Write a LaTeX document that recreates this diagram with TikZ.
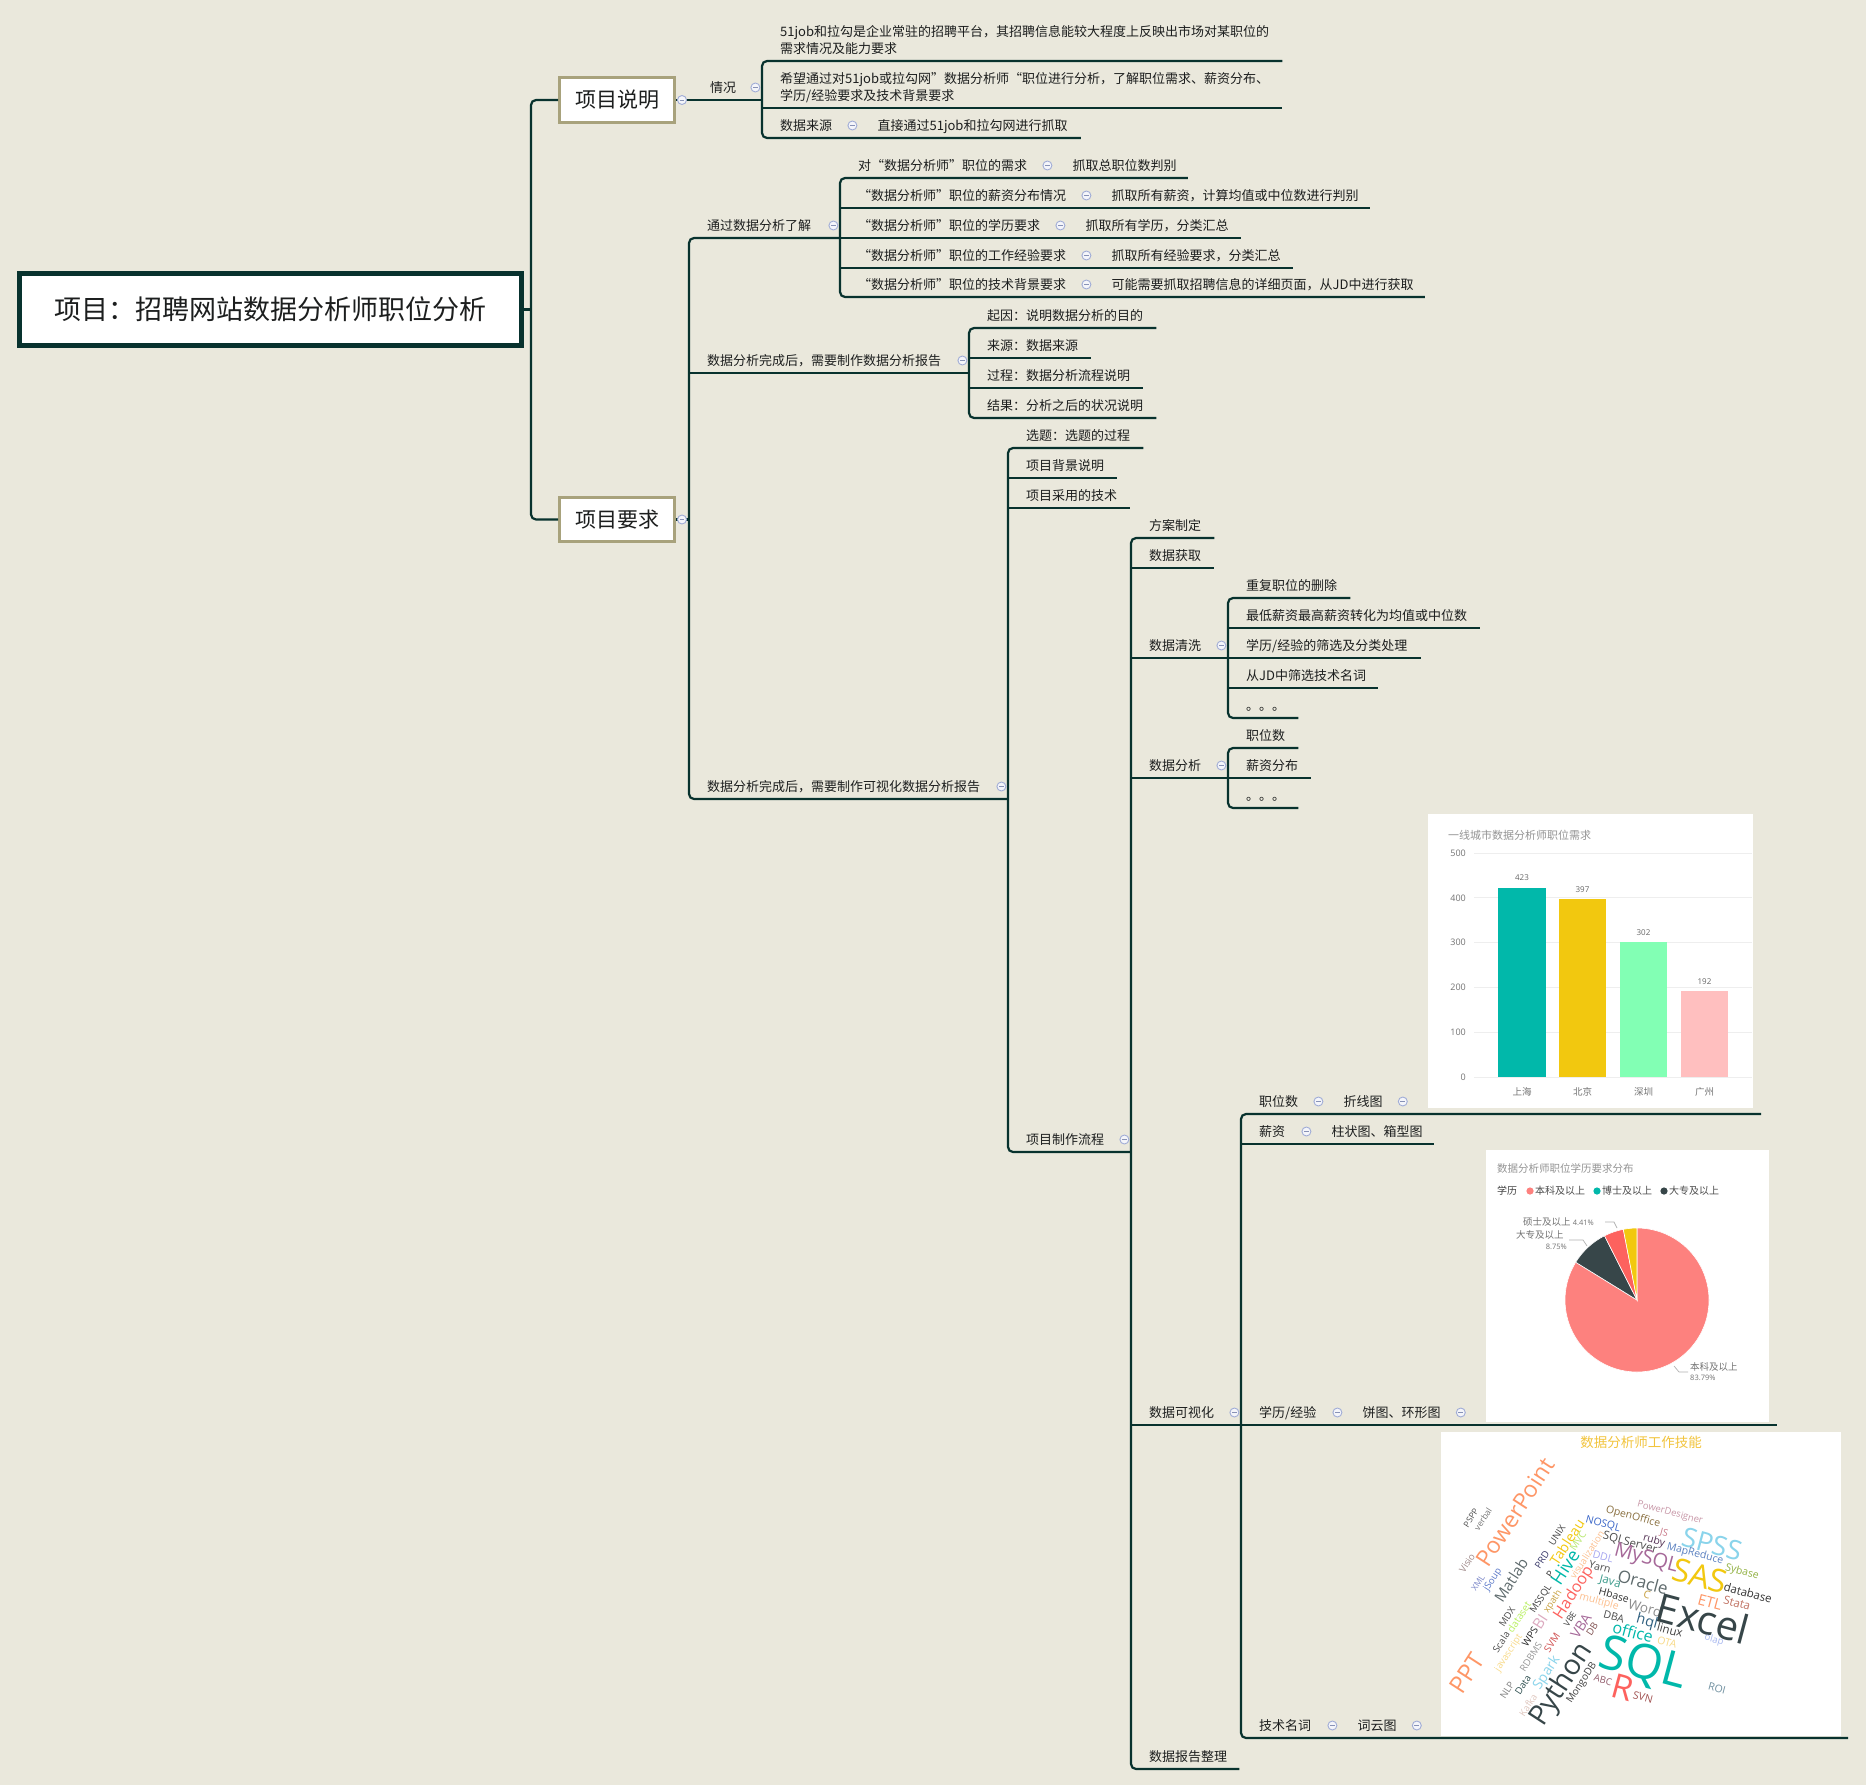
\documentclass[tikz,border=0pt]{standalone}
\usepackage{fontspec}
\setmainfont{Noto Sans CJK SC}
\newfontfamily\cloudfont{Open Sans}
\usetikzlibrary{calc}

\definecolor{bg}{RGB}{234,232,220}
\definecolor{ink}{RGB}{28,30,30}
\definecolor{wire}{RGB}{8,50,46}
\definecolor{olive}{RGB}{168,162,124}
\definecolor{foldring}{RGB}{160,172,214}
\definecolor{foldfill}{RGB}{244,245,250}
\definecolor{pbteal}{HTML}{01B8AA}
\definecolor{pbdark}{HTML}{374649}
\definecolor{pbred}{HTML}{FD625E}
\definecolor{pbyellow}{HTML}{F2C80F}
\definecolor{pbblue}{HTML}{8AD4EB}
\definecolor{pborange}{HTML}{FE9666}
\definecolor{pbpurple}{HTML}{A66999}
\definecolor{pbgrey}{HTML}{5F6B6D}
\definecolor{pbsalmon}{HTML}{FD817E}
\definecolor{pbmint}{HTML}{82FFB4}
\definecolor{pbpink}{HTML}{FFBFBF}
\definecolor{gridgrey}{RGB}{238,238,238}
\definecolor{cloudtitle}{RGB}{242,196,60}
\definecolor{wcnavy}{HTML}{3A66C8}
\definecolor{wcbrown}{HTML}{8A7040}
\definecolor{wcmauve}{HTML}{C898A8}
\definecolor{wcrose}{HTML}{C87888}
\definecolor{wcplum}{HTML}{553355}
\definecolor{wcsteel}{HTML}{5A80C0}
\definecolor{wclav}{HTML}{A8A8F0}
\definecolor{wcolive}{HTML}{90B040}
\definecolor{wcsea}{HTML}{3A9A8A}
\definecolor{wcgold}{HTML}{C8A040}
\definecolor{wcpeach}{HTML}{FDC090}
\definecolor{wcrust}{HTML}{C07060}
\definecolor{wcdeep}{HTML}{306080}
\definecolor{wccream}{HTML}{F8DA88}
\definecolor{wcsky}{HTML}{A8B8F0}
\definecolor{wcwine}{HTML}{905868}
\definecolor{wcbrick}{HTML}{A05050}
\definecolor{wcslate}{HTML}{7090A0}
\definecolor{wclime}{HTML}{B8F060}
\definecolor{wcsage}{HTML}{B8E870}
\definecolor{wcblue}{HTML}{5A78C8}
\definecolor{wcxml}{HTML}{7A86C8}
\definecolor{wcvisio}{HTML}{A08A8A}
\definecolor{wcred}{HTML}{D05050}
\definecolor{wcpink}{HTML}{DCAAC0}
\definecolor{wckafka}{HTML}{E0C8C0}
\definecolor{wcteal}{HTML}{2F5050}
\definecolor{wcindigo}{HTML}{3A3A6A}
\definecolor{wcdb}{HTML}{805050}

% one row of text: a box of fixed width, text indented from its left end
\newcommand\rowtxt[2]{\makebox[#1pt][l]{\hspace*{18pt}#2}}

\tikzset{
  conn/.style={draw=wire, line width=2.2pt},
  bracket/.style={conn, rounded corners=5pt},
  topic/.style={anchor=south west, inner xsep=0pt, inner ysep=7.5pt, text depth=0pt,
    text=ink, font=\fontsize{13}{17}\selectfont},
  rootbox/.style={draw=wire, line width=5pt, fill=white, minimum width=502pt,
    minimum height=72pt, inner sep=0pt, font=\fontsize{27}{30}\selectfont, text=ink},
  mainbox/.style={draw=olive, line width=3pt, fill=white, minimum width=115pt,
    minimum height=44pt, inner sep=0pt, font=\fontsize{21}{24}\selectfont, text=ink},
  fold/.style={circle, draw=foldring, fill=foldfill, line width=0.9pt, minimum size=9pt,
    inner sep=0pt, path picture={\draw[foldring!85!black, line width=0.9pt]
      ([xshift=-2.4pt]path picture bounding box.center) --
      ([xshift=2.4pt]path picture bounding box.center);}},
  holder/.style={anchor=south west, inner sep=0pt, draw=none},
  panel/.style={anchor=south west, inner sep=0pt, fill=white, draw=none},
  chartlbl/.style={inner sep=0pt, text=black!55},
  wsz/.style={inner sep=0pt, font=\cloudfont\fontsize{#1}{#1}\selectfont},
  up/.style={rotate=57},
  tilt/.style={rotate=-15}
}
\newcommand\foldon[1]{\node[fold] (fold-#1) at ([shift={(-7,-12.5)}]#1.south east) {};}

\begin{document}
\begin{tikzpicture}[x=1pt,y=-1pt]
\useasboundingbox (0,0) rectangle (1866,1785);
\fill[bg] (0,0) rectangle (1866,1785);

% ---------- root and the two main topics ----------
\node[rootbox] (root) at (270.5,309.5) {项目：招聘网站数据分析师职位分析};
\node[mainbox] (sm) at (617,100) {项目说明};
\node[mainbox] (req) at (617,519.5) {项目要求};
\coordinate (rj) at ($(root.east)+(7,0)$);
\draw[conn] (root.east) -- (rj);
\draw[bracket] (sm.west) -| (rj) |- (req.west);

% ---------- 项目说明 ----------
\node[topic] (qk) at (692,100) {\rowtxt{70}{情况}};
\draw[conn] (sm.east) -- (qk.south east);
\node[topic, text width=520pt, text depth=17pt, align=left] (c1) at (762,61)
  {\hspace*{18pt}51job和拉勾是企业常驻的招聘平台，其招聘信息能较大程度上反映出市场对某职位的\\\hspace*{18pt}需求情况及能力要求};
\node[topic, text width=520pt, text depth=17pt, align=left] (c2) at (762,108)
  {\hspace*{18pt}希望通过对51job或拉勾网”数据分析师“职位进行分析，了解职位需求、薪资分布、\\\hspace*{18pt}学历/经验要求及技术背景要求};
\node[topic] (c3) at (762,138) {\rowtxt{97}{数据来源}};
\node[topic] (c3x) at (c3.south east) {\rowtxt{221}{直接通过51job和拉勾网进行抓取}};
\draw[bracket] (c1.south east) -- (c1.south west) -- (c3.south west) -- (c3x.south east);
\draw[conn] (c2.south west) -- (c2.south east);

% ---------- 项目要求 ----------
\node[topic] (r1) at (689,238) {\rowtxt{151}{通过数据分析了解}};
\node[topic] (r2) at (689,373) {\rowtxt{280}{数据分析完成后，需要制作数据分析报告}};
\node[topic] (r3) at (689,799) {\rowtxt{319}{数据分析完成后，需要制作可视化数据分析报告}};
\draw[conn] (req.east) -- (req.east -| r1.south west);
\draw[bracket] (r1.south east) -- (r1.south west) -- (r3.south west) -- (r3.south east);
\draw[conn] (r2.south west) -- (r2.south east);

% 通过数据分析了解
\node[topic] (a1) at (840,178) {\rowtxt{214}{对“数据分析师”职位的需求}};
\node[topic] (a1x) at (a1.south east) {\rowtxt{133}{抓取总职位数判别}};
\node[topic] (a2) at (840,208) {\rowtxt{253}{“数据分析师”职位的薪资分布情况}};
\node[topic] (a2x) at (a2.south east) {\rowtxt{276}{抓取所有薪资，计算均值或中位数进行判别}};
\node[topic] (a3) at (840,238) {\rowtxt{227}{“数据分析师”职位的学历要求}};
\node[topic] (a3x) at (a3.south east) {\rowtxt{173}{抓取所有学历，分类汇总}};
\node[topic] (a4) at (840,268) {\rowtxt{253}{“数据分析师”职位的工作经验要求}};
\node[topic] (a4x) at (a4.south east) {\rowtxt{199}{抓取所有经验要求，分类汇总}};
\node[topic] (a5) at (840,297) {\rowtxt{253}{“数据分析师”职位的技术背景要求}};
\node[topic] (a5x) at (a5.south east) {\rowtxt{331}{可能需要抓取招聘信息的详细页面，从JD中进行获取}};
\draw[bracket] (a1x.south east) -- (a1.south west) -- (a5.south west) -- (a5x.south east);
\draw[conn] (a2.south west) -- (a2x.south east);
\draw[conn] (a3.south west) -- (a3x.south east);
\draw[conn] (a4.south west) -- (a4x.south east);

% 数据分析报告
\node[topic] (b1) at (969,328) {\rowtxt{187}{起因：说明数据分析的目的}};
\node[topic] (b2) at (969,358) {\rowtxt{122}{来源：数据来源}};
\node[topic] (b3) at (969,388) {\rowtxt{174}{过程：数据分析流程说明}};
\node[topic] (b4) at (969,418) {\rowtxt{187}{结果：分析之后的状况说明}};
\draw[bracket] (b1.south east) -- (b1.south west) -- (b4.south west) -- (b4.south east);
\draw[conn] (b2.south west) -- (b2.south east);
\draw[conn] (b3.south west) -- (b3.south east);

% 可视化数据分析报告
\node[topic] (d1) at (1008,448) {\rowtxt{135}{选题：选题的过程}};
\node[topic] (d2) at (1008,478) {\rowtxt{109}{项目背景说明}};
\node[topic] (d3) at (1008,508) {\rowtxt{122}{项目采用的技术}};
\node[topic] (d4) at (1008,1152) {\rowtxt{123}{项目制作流程}};
\draw[bracket] (d1.south east) -- (d1.south west) -- (d4.south west) -- (d4.south east);
\draw[conn] (d2.south west) -- (d2.south east);
\draw[conn] (d3.south west) -- (d3.south east);

% 项目制作流程
\node[topic] (e1) at (1131,538) {\rowtxt{83}{方案制定}};
\node[topic] (e2) at (1131,568) {\rowtxt{83}{数据获取}};
\node[topic] (e3) at (1131,658) {\rowtxt{97}{数据清洗}};
\node[topic] (e4) at (1131,778) {\rowtxt{97}{数据分析}};
\node[topic] (e5) at (1131,1425) {\rowtxt{110}{数据可视化}};
\node[topic] (e6) at (1131,1769) {\rowtxt{108}{数据报告整理}};
\draw[bracket] (e1.south east) -- (e1.south west) -- (e6.south west) -- (e6.south east);
\foreach \n in {e2,e3,e4,e5} \draw[conn] (\n.south west) -- (\n.south east);

% 数据清洗
\node[topic] (f1) at (1228,598) {\rowtxt{122}{重复职位的删除}};
\node[topic] (f2) at (1228,628) {\rowtxt{252}{最低薪资最高薪资转化为均值或中位数}};
\node[topic] (f3) at (1228,658) {\rowtxt{193}{学历/经验的筛选及分类处理}};
\node[topic] (f4) at (1228,688) {\rowtxt{150}{从JD中筛选技术名词}};
\node[topic] (f5) at (1228,718) {\rowtxt{70}{。。。}};
\draw[bracket] (f1.south east) -- (f1.south west) -- (f5.south west) -- (f5.south east);
\foreach \n in {f2,f3,f4} \draw[conn] (\n.south west) -- (\n.south east);

% 数据分析
\node[topic] (g1) at (1228,748) {\rowtxt{70}{职位数}};
\node[topic] (g2) at (1228,778) {\rowtxt{83}{薪资分布}};
\node[topic] (g3) at (1228,808) {\rowtxt{70}{。。。}};
\draw[bracket] (g1.south east) -- (g1.south west) -- (g3.south west) -- (g3.south east);
\draw[conn] (g2.south west) -- (g2.south east);

% 数据可视化
\node[topic] (h1) at (1241,1114) {\rowtxt{84}{职位数}};
\node[topic] (h1x) at (h1.south east) {\rowtxt{84}{折线图}};
\node[holder, minimum width=351pt, minimum height=300pt] (h1img) at (h1x.south east) {};
\node[topic] (h2) at (1241,1144) {\rowtxt{72}{薪资}};
\node[topic] (h2x) at (h2.south east) {\rowtxt{120}{柱状图、箱型图}};
\node[topic] (h3) at (1241,1425) {\rowtxt{103}{学历/经验}};
\node[topic] (h3x) at (h3.south east) {\rowtxt{123}{饼图、环形图}};
\node[holder, minimum width=309pt, minimum height=280pt] (h3img) at (h3x.south east) {};
\node[topic] (h4) at (1241,1738) {\rowtxt{98}{技术名词}};
\node[topic] (h4x) at (h4.south east) {\rowtxt{84}{词云图}};
\node[holder, minimum width=424pt, minimum height=310pt] (h4img) at (h4x.south east) {};
\draw[bracket] (h1img.south east) -- (h1.south west) -- (h4.south west) -- (h4img.south east);
\draw[conn] (h2.south west) -- (h2x.south east);
\draw[conn] (h3.south west) -- (h3img.south east);

% ---------- collapse markers ----------
\node[fold] (fold-sm) at ([xshift=6pt]sm.east) {};
\node[fold] (fold-req) at ([xshift=6pt]req.east) {};
\foreach \n in {qk,c3,r1,r2,r3,a1,a2,a3,a4,a5,d4,e3,e4,e5,h1,h1x,h2,h3,h3x,h4,h4x} {\foldon{\n}}

% ---------- bar chart ----------
\node[panel, minimum width=325pt, minimum height=294pt] (barpanel) at ([shift={(18,-6)}]h1img.south west) {};
\node[chartlbl, anchor=west, text=black!42, font=\fontsize{11}{11}\selectfont] (bartitle) at (1448,835) {一线城市数据分析师职位需求};
\foreach \v/\yy in {0/1077,100/1032.2,200/987.4,300/942.6,400/897.8,500/853} {
  \draw[gridgrey, line width=0.9pt] (1474,\yy) -- (1752,\yy);
  \node[chartlbl, anchor=east, font=\cloudfont\fontsize{9}{9}\selectfont] (ytick\v) at (1466,\yy) {\v};
}
\fill[pbteal] (1498,1077) rectangle (1546,887.5);
\fill[pbyellow] (1559,1077) rectangle (1606,899.1);
\fill[pbmint] (1620,1077) rectangle (1667,941.7);
\fill[pbpink] (1681,1077) rectangle (1728,991);
\foreach \xx/\val/\tp/\city [count=\i] in {1522/423/887.5/上海,1582.5/397/899.1/北京,1643.5/302/941.7/深圳,1704.5/192/991/广州} {
  \node[chartlbl, text=black!60, font=\cloudfont\fontsize{8}{8}\selectfont] (barval\i) at (\xx,\tp-9.5) {\val};
  \node[chartlbl, font=\fontsize{9.5}{9.5}\selectfont] (barcity\i) at (\xx,1092) {\city};
}

% ---------- pie chart ----------
\node[panel, minimum width=283pt, minimum height=272pt] (piepanel) at ([shift={(18,-3)}]h3img.south west) {};
\node[chartlbl, anchor=west, text=black!42, font=\fontsize{10.5}{10.5}\selectfont] (pietitle) at (1497,1168) {数据分析师职位学历要求分布};
\node[chartlbl, anchor=west, text=black!75, font=\fontsize{10}{10}\selectfont] (legtitle) at (1497,1191) {学历};
\fill[pbsalmon] (1530,1191) circle (3.6);
\node[chartlbl, anchor=west, text=black!70, font=\fontsize{10}{10}\selectfont] (leg1) at (1535,1191) {本科及以上};
\fill[pbteal] (1597,1191) circle (3.6);
\node[chartlbl, anchor=west, text=black!70, font=\fontsize{10}{10}\selectfont] (leg2) at (1602,1191) {博士及以上};
\fill[pbdark] (1664,1191) circle (3.6);
\node[chartlbl, anchor=west, text=black!70, font=\fontsize{10}{10}\selectfont] (leg3) at (1669,1191) {大专及以上};
\coordinate (pc) at (1637,1300);
\begin{scope}[draw=white, line width=0.6pt]
\filldraw[fill=pbsalmon] (pc) -- ++(-148.356:72) arc[start angle=-148.356, end angle=-450, radius=72] -- cycle;
\filldraw[fill=pbdark] (pc) -- ++(-116.856:72) arc[start angle=-116.856, end angle=-148.356, radius=72] -- cycle;
\filldraw[fill=pbred] (pc) -- ++(-100.98:72) arc[start angle=-100.98, end angle=-116.856, radius=72] -- cycle;
\filldraw[fill=pbyellow] (pc) -- ++(-90:72) arc[start angle=-90, end angle=-100.98, radius=72] -- cycle;
\end{scope}
\draw[black!30, line width=0.7pt] (1605,1222) -- (1614,1222) -- (1617,1228);
\draw[black!30, line width=0.7pt] (1569,1240) -- (1583,1240) -- (1587,1246);
\draw[black!30, line width=0.7pt] (1688,1372) -- (1679,1372) -- (1674,1366);
\node[chartlbl, anchor=west, font=\fontsize{9.5}{9.5}\selectfont] (pl1) at (1523,1222)
  {硕士及以上 {\cloudfont\fontsize{7.5}{7.5}\selectfont 4.41\%}};
\node[chartlbl, anchor=west, font=\fontsize{9.5}{9.5}\selectfont] (pl2) at (1516,1235) {大专及以上};
\node[chartlbl, anchor=east, font=\cloudfont\fontsize{7.5}{7.5}\selectfont] (pl2v) at (1567,1247) {8.75\%};
\node[chartlbl, anchor=west, font=\fontsize{9.5}{9.5}\selectfont] (pl3) at (1690,1367) {本科及以上};
\node[chartlbl, anchor=west, font=\cloudfont\fontsize{7.5}{7.5}\selectfont] (pl3v) at (1690,1378) {83.79\%};

% ---------- word cloud ----------
\node[panel, minimum width=400pt, minimum height=304pt] (cloudpanel) at ([shift={(17,-2)}]h4img.south west) {};
\node[inner sep=0pt, text=cloudtitle, font=\fontsize{13.5}{13.5}\selectfont] (cloudtitle) at (1641,1442) {数据分析师工作技能};
% upright-leaning words
\node[wsz=23, up, text=pborange] (w01) at (1515,1512) {PowerPoint};
\node[wsz=24, up, text=pborange] (w02) at (1467,1673) {PPT};
\node[wsz=8.5, up, text=black!70] (w03) at (1471,1518) {PSPP};
\node[wsz=8.5, up, text=black!55] (w04) at (1483,1519) {verbal};
\node[wsz=9.5, up, text=wcvisio] (w05) at (1467,1563) {Visio};
\node[wsz=8.5, up, text=wcxml] (w06) at (1478,1583) {XML};
\node[wsz=9.5, up, text=wcblue] (w07) at (1493,1580) {jSoup};
\node[wsz=15, up, text=pbgrey] (w08) at (1511,1580) {Matlab};
\node[wsz=9.5, up, text=black!70] (w09) at (1507,1617) {MDX};
\node[wsz=10, up, text=wclime] (w10) at (1519,1617) {dataset};
\node[wsz=9.5, up, text=black!70] (w11) at (1501,1642) {Scala};
\node[wsz=9.5, up, text=wccream] (w12) at (1509,1653) {javascript};
\node[wsz=10, up, text=black!85] (w13) at (1530,1637) {WPS};
\node[wsz=9.5, up, text=black!40] (w14) at (1531,1657) {RDBMS};
\node[wsz=9.5, up, text=black!50] (w15) at (1507,1690) {NLP};
\node[wsz=9.5, up, text=wcteal] (w16) at (1523,1685) {Data};
\node[wsz=9.5, up, text=wckafka] (w17) at (1528,1705) {Kafka};
\node[wsz=14, up, text=pbblue] (w18) at (1547,1673) {Spark};
\node[wsz=10, up, text=wcred] (w19) at (1552,1643) {SVM};
\node[wsz=15, up, text=wcpink] (w20) at (1540,1622) {BI};
\node[wsz=9.5, up, text=black!75] (w21) at (1541,1599) {MSSQL};
\node[wsz=9.5, up, text=wcgold] (w22) at (1553,1602) {xpath};
\node[wsz=9.5, up, text=wcindigo] (w23) at (1542,1560) {PRD};
\node[wsz=9.5, up, text=black!75] (w24) at (1557,1535) {UNIX};
\node[wsz=14, up, text=pbyellow] (w25) at (1567,1542) {Tableau};
\node[wsz=10, up, text=wcsage] (w26) at (1578,1541) {MVC};
\node[wsz=9.5, up, text=black!80] (w27) at (1550,1574) {P};
\node[wsz=18, up, text=pbteal] (w28) at (1565,1567) {Hive};
\node[wsz=9.5, up, text=wcpeach] (w29) at (1587,1555) {visualization};
\node[wsz=16, up, text=pbred] (w30) at (1574,1593) {Hadoop};
\node[wsz=8.5, up, text=black!75] (w31) at (1570,1619) {VBE};
\node[wsz=14, up, text=pbpurple] (w32) at (1581,1626) {VBA};
\node[wsz=9.5, up, text=wcdb] (w33) at (1592,1629) {DB};
\node[wsz=28, up, text=pbdark] (w34) at (1562,1685) {Python};
\node[wsz=10, up, text=black!75] (w35) at (1582,1683) {MongoDB};
% slightly tilted words
\node[wsz=10.5, tilt, text=wcnavy] (w36) at (1603,1524) {NOSQL};
\node[wsz=10.5, tilt, text=wcbrown] (w37) at (1633,1517) {OpenOffice};
\node[wsz=9.5, tilt, text=wcmauve] (w38) at (1670,1513) {PowerDesigner};
\node[wsz=9.5, tilt, text=wcrose] (w39) at (1664,1533) {JS};
\node[wsz=11.5, tilt, text=black!70] (w40) at (1630,1543) {SQLServer};
\node[wsz=10.5, tilt, text=wcplum] (w41) at (1654,1541) {ruby};
\node[wsz=27, tilt, text=pbblue] (w42) at (1712,1544) {SPSS};
\node[wsz=10.5, tilt, text=wcsteel] (w43) at (1695,1554) {MapReduce};
\node[wsz=10.5, tilt, text=wclav] (w44) at (1603,1557) {DDL};
\node[wsz=10.5, tilt, text=black!70] (w45) at (1600,1567) {Yarn};
\node[wsz=20, tilt, text=pbpurple] (w46) at (1646,1559) {MySQL};
\node[wsz=32, tilt, text=pbyellow] (w47) at (1700,1576) {SAS};
\node[wsz=10.5, tilt, text=wcolive] (w48) at (1742,1572) {Sybase};
\node[wsz=11.5, tilt, text=wcsea] (w49) at (1610,1582) {Java};
\node[wsz=17, tilt, text=pbgrey] (w50) at (1643,1582) {Oracle};
\node[wsz=11.5, tilt, text=black!80] (w51) at (1748,1593) {database};
\node[wsz=10.5, tilt, text=black!80] (w52) at (1614,1595) {Hbase};
\node[wsz=10.5, tilt, text=wcgold] (w53) at (1647,1595) {C};
\node[wsz=10.5, tilt, text=wcpeach] (w54) at (1599,1602) {multiple};
\node[wsz=15, tilt, text=pborange] (w55) at (1710,1602) {ETL};
\node[wsz=11.5, tilt, text=wcrust] (w56) at (1737,1603) {Stata};
\node[wsz=13.5, tilt, text=black!45] (w57) at (1645,1608) {Word};
\node[wsz=40, tilt, text=pbdark] (w58) at (1703,1618) {Excel};
\node[wsz=10.5, tilt, text=black!70] (w59) at (1614,1617) {DBA};
\node[wsz=14.5, tilt, text=wcdeep] (w60) at (1647,1622) {hql};
\node[wsz=11.5, tilt, text=black!75] (w61) at (1670,1630) {linux};
\node[wsz=16, tilt, text=pbteal] (w62) at (1633,1632) {office};
\node[wsz=10.5, tilt, text=wccream] (w63) at (1667,1642) {OTA};
\node[wsz=9.5, tilt, text=wcsky] (w64) at (1714,1640) {olap};
\node[wsz=48, tilt, text=pbteal] (w65) at (1643,1665) {SQL};
\node[wsz=34, tilt, text=pbred] (w66) at (1623,1687) {R};
\node[wsz=9.5, tilt, text=wcwine] (w67) at (1603,1680) {ABC};
\node[wsz=10.5, tilt, text=wcbrick] (w68) at (1643,1697) {SVN};
\node[wsz=10.5, tilt, text=wcslate] (w69) at (1717,1688) {ROI};
\end{tikzpicture}
\end{document}
